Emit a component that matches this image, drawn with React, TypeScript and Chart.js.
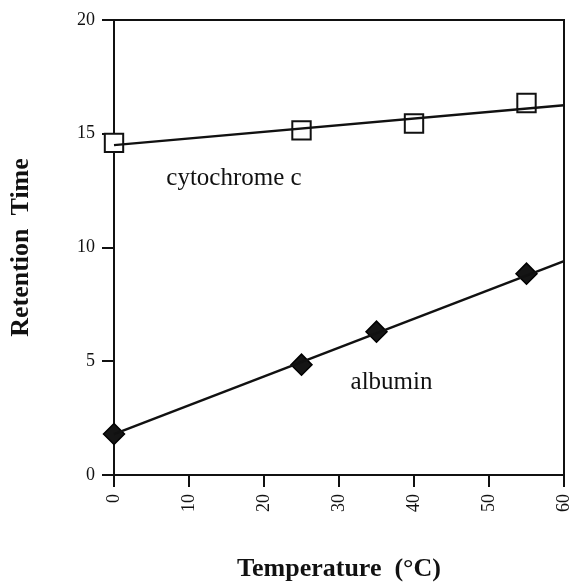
import React, { useEffect, useRef } from "react";
import { Chart, registerables } from "chart.js";

Chart.register(...registerables);

// Data
const cytoTemps = [0, 25, 40, 55];
const cytoTimes = [14.6, 15.15, 15.45, 16.35];
const cytoFitTemps = [0, 60];
const cytoFitTimes = [14.5, 16.25];

const albuTemps = [0, 25, 35, 55];
const albuTimes = [1.8, 4.85, 6.3, 8.85];
const albuFitTemps = [0, 60];
const albuFitTimes = [1.8, 9.4];

const xTickMin = 0;
const xTickMax = 60;
const xTickStep = 10;
const yTickMin = 0;
const yTickMax = 20;
const yTickStep = 5;

const seriesLabels = ["cytochrome c", "albumin"];
const labelTemps = [16, 37];
const labelTimes = [13.05, 4.05];

const toPts = (xs: number[], ys: number[]) => xs.map((x, i) => ({ x, y: ys[i] }));

const SERIF = "'Liberation Serif', 'Times New Roman', serif";

const framePlugin = {
  id: "frame",
  beforeDatasetsDraw(chart: any) {
    const { ctx, chartArea } = chart;
    ctx.save();
    ctx.strokeStyle = "#111";
    ctx.lineWidth = 2;
    ctx.beginPath();
    ctx.moveTo(chartArea.left, chartArea.top);
    ctx.lineTo(chartArea.right, chartArea.top);
    ctx.lineTo(chartArea.right, chartArea.bottom);
    ctx.stroke();
    ctx.restore();
  },
};

const labelPlugin = {
  id: "seriesText",
  afterDatasetsDraw(chart: any) {
    const { ctx } = chart;
    const xs = chart.scales.x;
    const ys = chart.scales.y;
    ctx.save();
    ctx.fillStyle = "#111";
    ctx.font = `25px ${SERIF}`;
    ctx.textAlign = "center";
    ctx.textBaseline = "middle";
    seriesLabels.forEach((t, i) => {
      ctx.fillText(t, xs.getPixelForValue(labelTemps[i]), ys.getPixelForValue(labelTimes[i]));
    });
    ctx.restore();
  },
};

export default function App() {
  const ref = useRef<HTMLCanvasElement | null>(null);

  useEffect(() => {
    if (!ref.current) return;
    const chart = new Chart(ref.current, {
      type: "scatter",
      data: {
        datasets: [
          {
            label: "cytochrome fit",
            type: "line",
            data: toPts(cytoFitTemps, cytoFitTimes),
            borderColor: "#111",
            borderWidth: 2.5,
            pointRadius: 0,
            fill: false,
            clip: false as any,
          },
          {
            label: "albumin fit",
            type: "line",
            data: toPts(albuFitTemps, albuFitTimes),
            borderColor: "#111",
            borderWidth: 2.5,
            pointRadius: 0,
            fill: false,
            clip: false as any,
          },
          {
            label: "cytochrome c",
            data: toPts(cytoTemps, cytoTimes),
            pointStyle: "rect",
            pointRadius: 13,
            backgroundColor: "#fff",
            borderColor: "#111",
            borderWidth: 2,
            clip: false as any,
          },
          {
            label: "albumin",
            data: toPts(albuTemps, albuTimes),
            pointStyle: "rectRot",
            pointRadius: 10.5,
            backgroundColor: "#151515",
            borderColor: "#000",
            borderWidth: 1.5,
            clip: false as any,
          },
        ],
      },
      options: {
        animation: false,
        responsive: false,
        layout: { autoPadding: false, padding: { top: 20, right: 12, left: 0, bottom: 0 } },
        plugins: { legend: { display: false }, tooltip: { enabled: false } },
        scales: {
          x: {
            type: "linear",
            min: xTickMin,
            max: xTickMax,
            afterFit: (s: any) => {
              s.height = 108;
              s.paddingLeft = 0;
              s.paddingRight = 0;
            },
            ticks: {
              stepSize: xTickStep,
              minRotation: 90,
              maxRotation: 90,
              padding: 7,
              color: "#111",
              font: { family: SERIF, size: 18 },
            },
            grid: {
              drawOnChartArea: false,
              drawTicks: true,
              tickLength: 12,
              color: "#111",
              lineWidth: 2,
            },
            border: { display: true, color: "#111", width: 2 },
            title: {
              display: true,
              text: "Temperature  (°C)",
              color: "#111",
              font: { family: SERIF, size: 26, weight: "bold", lineHeight: 1 },
              padding: { top: 0, bottom: 1 },
            },
          },
          y: {
            type: "linear",
            min: yTickMin,
            max: yTickMax,
            afterFit: (s: any) => {
              s.width = 114;
              s.paddingTop = 0;
              s.paddingBottom = 0;
            },
            ticks: {
              stepSize: yTickStep,
              padding: 7,
              color: "#111",
              font: { family: SERIF, size: 18 },
            },
            grid: {
              drawOnChartArea: false,
              drawTicks: true,
              tickLength: 12,
              color: "#111",
              lineWidth: 2,
            },
            border: { display: true, color: "#111", width: 2 },
            title: {
              display: true,
              text: "Retention  Time",
              color: "#111",
              font: { family: SERIF, size: 26, weight: "bold", lineHeight: 1 },
              padding: { top: 8, bottom: 0 },
            },
          },
        },
      } as any,
      plugins: [framePlugin, labelPlugin],
    });
    return () => chart.destroy();
  }, []);

  return (
    <div style={{ position: "absolute", left: 0, top: 0, width: 576, height: 583, background: "#fff" }}>
      <canvas ref={ref} width={576} height={583} style={{ display: "block" }} />
    </div>
  );
}
